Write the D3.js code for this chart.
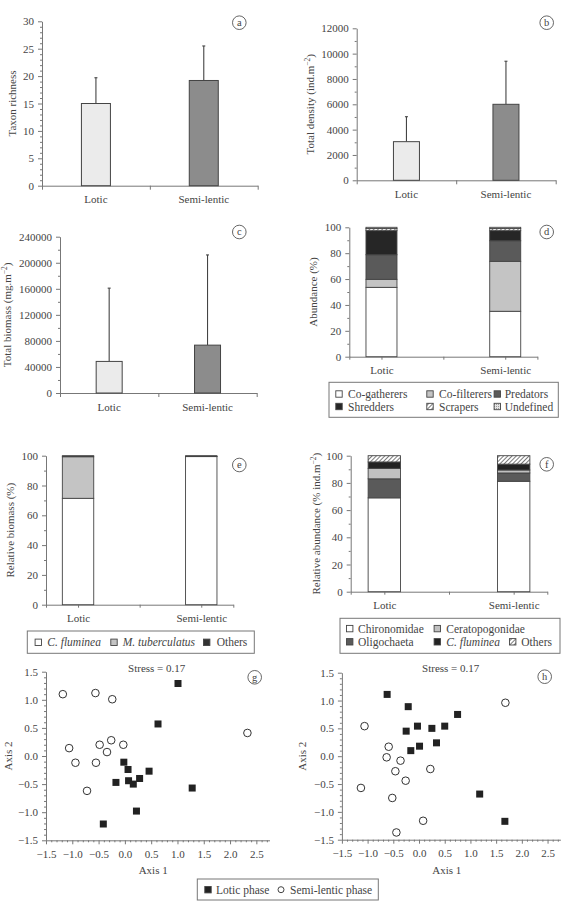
<!DOCTYPE html>
<html><head><meta charset="utf-8">
<script src="https://cdn.jsdelivr.net/npm/d3@7"></script>
<style>
body{margin:0;background:#fff}
svg{display:block}
text{font-family:"Liberation Serif","Times New Roman",serif;fill:#444}
</style>
</head><body>
<svg id="c" width="568" height="902"></svg>
<script>
// ---------------- DATA ----------------
const phases = ["Lotic", "Semi-lentic"];

const richnessMean = [15.0, 19.2];
const richnessErr  = [4.7, 6.3];
const richnessTicks = [0, 5, 10, 15, 20, 25, 30];

const densityMean = [3050, 6000];
const densityErr  = [1970, 3400];
const densityTicks = [0, 2000, 4000, 6000, 8000, 10000, 12000];

const biomassMean = [48500, 73500];
const biomassErr  = [112500, 138500];
const biomassTicks = [0, 40000, 80000, 120000, 160000, 200000, 240000];

const feedingGroups = ["Co-gatherers", "Co-filterers", "Predators", "Shredders", "Scrapers", "Undefined"];
const feedingLotic  = [53.6, 6.2, 19.0, 18.6, 1.6, 1.0];
const feedingSemi   = [35.1, 38.6, 15.9, 7.8, 1.6, 1.0];

const biomassTaxa  = ["C. fluminea", "M. tuberculatus", "Others"];
const relBioLotic  = [71.4, 27.9, 0.7];
const relBioSemi   = [99.4, 0.1, 0.5];

const abundTaxa       = ["Chironomidae", "Ceratopogonidae", "Oligochaeta", "C. fluminea", "Others"];
const abundStackOrder = ["Chironomidae", "Oligochaeta", "Ceratopogonidae", "C. fluminea", "Others"];
const abundLotic      = [69.0, 7.7, 14.0, 4.7, 4.6];
const abundSemi       = [81.2, 2.2, 6.1, 4.3, 6.2];

const pctTicks = [0, 20, 40, 60, 80, 100];
const nmdsTicks = [-1.5, -1.0, -0.5, 0.0, 0.5, 1.0, 1.5, 2.0, 2.5];
const nmdsYTicks = [-1.5, -1.0, -0.5, 0.0, 0.5, 1.0, 1.5];

// NMDS (g): abundance based
const gLoticX = [1.01, 0.63, -0.02, 0.06, 0.46, 0.28, 0.07, 0.16, -0.17, 1.28, 0.22, -0.41];
const gLoticY = [1.29, 0.57, -0.11, -0.24, -0.27, -0.40, -0.44, -0.50, -0.47, -0.57, -0.98, -1.21];
const gSemiX  = [-1.18, -0.56, -0.24, 2.33, -0.26, -0.48, -0.03, -0.34, -1.06, -0.94, -0.55, -0.72];
const gSemiY  = [1.10, 1.12, 1.01, 0.41, 0.28, 0.20, 0.20, 0.07, 0.14, -0.12, -0.12, -0.62];
// NMDS (h)
const hLoticX = [-0.62, -0.21, 0.75, -0.25, -0.03, 0.25, 0.50, 0.34, -0.16, 0.01, 1.18, 1.67];
const hLoticY = [1.11, 0.89, 0.75, 0.45, 0.54, 0.50, 0.54, 0.24, 0.10, 0.18, -0.68, -1.17];
const hSemiX  = [1.68, -1.06, -0.59, -0.63, -0.36, 0.22, -0.46, -0.26, -1.13, -0.52, 0.08, -0.44];
const hSemiY  = [0.96, 0.54, 0.17, -0.02, -0.08, -0.23, -0.27, -0.44, -0.57, -0.75, -1.16, -1.37];
const stressLabel = "Stress = 0.17";
const phaseLegend = ["Lotic phase", "Semi-lentic phase"];

// ---------------- DRAWING ----------------
const FONT = '"Liberation Serif","Times New Roman",serif';
const TXT = "#444", AX = "#777", OUT = "#444";
const svg = d3.select("#c");

const defs = svg.append("defs");
const hatch = defs.append("pattern").attr("id", "hatch").attr("patternUnits", "userSpaceOnUse")
  .attr("width", 3).attr("height", 3).attr("patternTransform", "rotate(45)");
hatch.append("rect").attr("width", 3).attr("height", 3).attr("fill", "#fff");
hatch.append("line").attr("x1", 0).attr("y1", 0).attr("x2", 0).attr("y2", 3).attr("stroke", "#333").attr("stroke-width", 1.3);
const dots = defs.append("pattern").attr("id", "dots").attr("patternUnits", "userSpaceOnUse")
  .attr("width", 2).attr("height", 2);
dots.append("rect").attr("width", 2).attr("height", 2).attr("fill", "#e4e4e4");
dots.append("rect").attr("width", 1).attr("height", 1).attr("fill", "#999");

function styleAxis(s) {
  s.attr("font-family", FONT).attr("font-size", 11);
  s.select(".domain").attr("stroke", AX);
  s.selectAll(".tick line").attr("stroke", AX);
  s.selectAll(".tick text").attr("fill", TXT);
}

function yAxis(x, y, ticks, minorStep, fmt) {
  const [d0, d1] = y.domain();
  const minor = d3.range(d0, d1 + minorStep / 2, minorStep)
    .filter(v => !ticks.some(t => Math.abs(t - v) < 1e-9));
  svg.append("g").attr("transform", `translate(${x},0)`)
    .call(d3.axisLeft(y).tickValues(minor).tickSize(2).tickFormat(""))
    .call(s => { s.select(".domain").remove(); s.selectAll("line").attr("stroke", AX); });
  svg.append("g").attr("transform", `translate(${x},0)`)
    .call(d3.axisLeft(y).tickValues(ticks).tickSize(4).tickSizeOuter(0).tickPadding(4).tickFormat(fmt))
    .call(styleAxis);
}

function yTitle(x, yc, parts) {
  const t = svg.append("text").attr("transform", `translate(${x},${yc}) rotate(-90)`)
    .attr("text-anchor", "middle").attr("dy", "0.35em").attr("font-size", 11).attr("fill", TXT);
  parts.forEach(p => {
    const ts = t.append("tspan").text(p.t);
    if (p.sup) ts.attr("dy", -4).attr("font-size", 7.5);
    if (p.down) ts.attr("dy", 4);
  });
}

function letter(x, y, l) {
  svg.append("circle").attr("cx", x).attr("cy", y).attr("r", 6.8).attr("fill", "#fff").attr("stroke", "#555").attr("stroke-width", 0.9);
  svg.append("text").attr("x", x).attr("y", y).attr("dy", "0.33em").attr("text-anchor", "middle")
    .attr("font-size", 10.5).attr("fill", TXT).text(l);
}

function barPanel(p) {
  const y = d3.scaleLinear().domain([0, p.max]).range([p.yb, p.yt]);
  const xb = d3.scaleBand().domain(phases).range([p.x0, p.x1]);
  const xl = d3.scaleLinear().domain([0, 2]).range([p.x0, p.x1]);
  // x axis with boundary ticks
  svg.append("g").attr("transform", `translate(0,${p.yb})`)
    .call(d3.axisBottom(xl).tickValues([0, 1, 2]).tickSize(4).tickSizeOuter(0).tickFormat(""))
    .call(styleAxis);
  svg.append("g").attr("transform", `translate(0,${p.yb})`)
    .call(d3.axisBottom(xb).tickSize(0).tickPadding(9.7))
    .call(styleAxis).call(s => s.select(".domain").remove());
  yAxis(p.x0, y, p.ticks, p.minor, d3.format("d"));
  const fills = ["#ebebeb", "#8c8c8c"];
  phases.forEach((ph, i) => {
    const cx = xb(ph) + xb.bandwidth() / 2;
    const top = y(p.mean[i] + p.err[i]);
    svg.append("line").attr("x1", cx).attr("x2", cx).attr("y1", y(p.mean[i])).attr("y2", top)
      .attr("stroke", OUT).attr("stroke-width", 1.1);
    svg.append("line").attr("x1", cx - 1.5).attr("x2", cx + 1.5).attr("y1", top).attr("y2", top)
      .attr("stroke", OUT).attr("stroke-width", 1.1);
    svg.append("rect").attr("x", cx - p.bw / 2).attr("y", y(p.mean[i]))
      .attr("width", p.bw).attr("height", y(0) - y(p.mean[i]))
      .attr("fill", fills[i]).attr("stroke", OUT).attr("stroke-width", 1);
  });
  yTitle(p.tx, (p.yt + p.yb) / 2, p.title);
  letter(p.lx, p.ly, p.letter);
}

function stackPanel(p) {
  const y = d3.scaleLinear().domain([0, 100]).range([p.yb, p.yt]);
  const xp = d3.scalePoint().domain(phases).range([p.x0, p.x1]).padding(0.26);
  const xl = d3.scaleLinear().domain([0, 2]).range([p.x0, p.x1]);
  svg.append("g").attr("transform", `translate(0,${p.yb})`)
    .call(d3.axisBottom(xl).tickValues([0, 1, 2]).tickSize(3).tickSizeOuter(0).tickFormat(""))
    .call(styleAxis);
  svg.append("g").attr("transform", `translate(0,${p.yb})`)
    .call(d3.axisBottom(xp).tickSize(3).tickPadding(6.7))
    .call(styleAxis).call(s => s.select(".domain").remove());
  yAxis(p.x0, y, pctTicks, 10, d3.format("d"));
  const rows = phases.map((ph, i) => {
    const o = { phase: ph };
    p.keys.forEach((k, j) => o[k] = p.values[i][j]);
    return o;
  });
  const series = d3.stack().keys(p.order)(rows);
  series.forEach(s => {
    s.forEach(d => {
      const cx = xp(d.data.phase);
      svg.append("rect").attr("x", cx - p.bw / 2).attr("y", y(d[1]))
        .attr("width", p.bw).attr("height", Math.max(0, y(d[0]) - y(d[1])))
        .attr("fill", p.fills[s.key]).attr("stroke", OUT).attr("stroke-width", 0.9);
    });
  });
  yTitle(p.tx, (p.yt + p.yb) / 2, p.title);
  letter(p.lx, p.ly, p.letter);
}

function legendBox(x0, y0, x1, y1) {
  svg.append("rect").attr("x", x0).attr("y", y0).attr("width", x1 - x0).attr("height", y1 - y0)
    .attr("fill", "#fff").attr("stroke", "#777").attr("stroke-width", 1);
}
function legendItem(mx, ty, tx, fill, label, italic, shape) {
  if (shape === "circle") {
    svg.append("circle").attr("cx", mx).attr("cy", ty).attr("r", 3).attr("fill", "#fff").attr("stroke", "#444");
  } else {
    svg.append("rect").attr("x", mx - 3.2).attr("y", ty - 3.2).attr("width", 6.4).attr("height", 6.4)
      .attr("fill", fill).attr("stroke", "#444").attr("stroke-width", 0.9);
  }
  svg.append("text").attr("x", tx).attr("y", ty).attr("dy", "0.35em").attr("font-size", 11.5)
    .attr("fill", TXT).attr("font-style", italic ? "italic" : "normal").text(label);
}

function scatterPanel(p) {
  const x = d3.scaleLinear().domain([-1.5, 2.75]).range([p.x0, p.x1]);
  const y = d3.scaleLinear().domain([-1.5, 1.5]).range([p.yb, p.yt]);
  const fmt = d3.format(".1f");
  // minor ticks
  const mx = d3.range(-1.5, 2.75, 0.1).filter(v => !nmdsTicks.some(t => Math.abs(t - v) < 1e-6));
  svg.append("g").attr("transform", `translate(0,${p.yb})`)
    .call(d3.axisBottom(x).tickValues(mx).tickSize(2).tickFormat(""))
    .call(s => { s.select(".domain").remove(); s.selectAll("line").attr("stroke", AX); });
  svg.append("g").attr("transform", `translate(0,${p.yb})`)
    .call(d3.axisBottom(x).tickValues(nmdsTicks).tickSize(4).tickSizeOuter(0).tickPadding(6).tickFormat(fmt))
    .call(styleAxis);
  yAxis(p.x0, y, nmdsYTicks, 0.1, fmt);
  p.semiX.forEach((v, i) => {
    svg.append("circle").attr("cx", x(v)).attr("cy", y(p.semiY[i])).attr("r", 3.8)
      .attr("fill", "#fff").attr("stroke", "#333").attr("stroke-width", 1);
  });
  p.loticX.forEach((v, i) => {
    svg.append("rect").attr("x", x(v) - 3.5).attr("y", y(p.loticY[i]) - 3.5).attr("width", 7).attr("height", 7)
      .attr("fill", "#222");
  });
  svg.append("text").attr("x", p.sx).attr("y", p.sy).attr("dy", "0.35em").attr("text-anchor", "middle")
    .attr("font-size", 11).attr("fill", TXT).text(stressLabel);
  svg.append("text").attr("x", (p.x0 + x(2.5)) / 2 + 2).attr("y", p.yb + 34).attr("text-anchor", "middle")
    .attr("font-size", 11).attr("fill", TXT).text("Axis 1");
  yTitle(p.tx, (p.yt + p.yb) / 2, [{ t: "Axis 2" }]);
  letter(p.lx, p.ly, p.letter);
}

// (a) richness
barPanel({ x0: 42, x1: 257.7, yt: 21.3, yb: 185.7, max: 30, ticks: richnessTicks, minor: 1,
  mean: richnessMean, err: richnessErr, bw: 29, tx: 12, title: [{ t: "Taxon richness" }],
  lx: 239.3, ly: 22.7, letter: "a" });
// (b) density
barPanel({ x0: 356.7, x1: 555.7, yt: 28.3, yb: 180.3, max: 12000, ticks: densityTicks, minor: 1000,
  mean: densityMean, err: densityErr, bw: 26, tx: 309.7,
  title: [{ t: "Total density (ind.m" }, { t: "−2", sup: true }, { t: ")", down: true }],
  lx: 546.7, ly: 22.7, letter: "b" });
// (c) biomass
barPanel({ x0: 60, x1: 256.7, yt: 236.7, yb: 393, max: 240000, ticks: biomassTicks, minor: 20000,
  mean: biomassMean, err: biomassErr, bw: 26, tx: 7.5,
  title: [{ t: "Total biomass (mg.m" }, { t: "−2", sup: true }, { t: ")", down: true }],
  lx: 239.3, ly: 232, letter: "c" });

// (d) functional feeding groups
const feedFills = { "Co-gatherers": "#fff", "Co-filterers": "#c4c4c4", "Predators": "#5a5a5a",
  "Shredders": "#262626", "Scrapers": "url(#hatch)", "Undefined": "url(#dots)" };
stackPanel({ x0: 349.3, x1: 537.4, yt: 227.3, yb: 356.7, keys: feedingGroups, order: feedingGroups,
  values: [feedingLotic, feedingSemi], fills: feedFills, bw: 31, tx: 313.3,
  title: [{ t: "Abundance (%)" }], lx: 546.7, ly: 232, letter: "d" });
legendBox(329, 382.3, 558.3, 417.3);
[[339, 394, 348], [430, 394, 439], [497.3, 394, 504.7], [339, 406.5, 348], [430, 406.5, 439], [497.3, 406.5, 504.7]]
  .forEach((c, i) => legendItem(c[0], c[1], c[2], feedFills[feedingGroups[i]], feedingGroups[i], false));

// (e) relative biomass
const bioFills = { "C. fluminea": "#fff", "M. tuberculatus": "#c4c4c4", "Others": "#333" };
stackPanel({ x0: 46, x1: 233.3, yt: 455.7, yb: 604.7, keys: biomassTaxa, order: biomassTaxa,
  values: [relBioLotic, relBioSemi], fills: bioFills, bw: 31.4, tx: 10,
  title: [{ t: "Relative biomass (%)" }], lx: 239.3, ly: 465, letter: "e" });
legendBox(27.3, 631, 254.3, 653.3);
[[38.3, 47.3, true], [114, 122.7, true], [206.7, 216.7, false]]
  .forEach((c, i) => legendItem(c[0], 642.3, c[1], bioFills[biomassTaxa[i]], biomassTaxa[i], c[2]));

// (f) relative abundance
const abFills = { "Chironomidae": "#fff", "Ceratopogonidae": "#c0c0c0", "Oligochaeta": "#5a5a5a",
  "C. fluminea": "#222", "Others": "url(#hatch)" };
stackPanel({ x0: 350.7, x1: 547.3, yt: 455.7, yb: 591.7, keys: abundTaxa, order: abundStackOrder,
  values: [abundLotic, abundSemi], fills: abFills, bw: 32.4, tx: 315.7,
  title: [{ t: "Relative abundance (% ind.m" }, { t: "−2", sup: true }, { t: ")", down: true }],
  lx: 546.7, ly: 464.3, letter: "f" });
legendBox(340, 618.3, 560, 653.3);
[[349.7, 628.6, 358, false], [437.3, 628.6, 446.3, false], [349.7, 641.8, 358, false],
 [437.3, 641.8, 446.3, true], [512.7, 641.8, 521.3, false]]
  .forEach((c, i) => legendItem(c[0], c[1], c[2], abFills[abundTaxa[i]], abundTaxa[i], c[3]));

// (g) and (h) NMDS
scatterPanel({ x0: 46, x1: 269.5, yt: 671.7, yb: 840.3, loticX: gLoticX, loticY: gLoticY,
  semiX: gSemiX, semiY: gSemiY, sx: 156.7, sy: 668.3, tx: 8.3, lx: 254.7, ly: 677.3, letter: "g" });
scatterPanel({ x0: 341.9, x1: 560.4, yt: 672.7, yb: 839.7, loticX: hLoticX, loticY: hLoticY,
  semiX: hSemiX, semiY: hSemiY, sx: 450.7, sy: 668.3, tx: 302.3, lx: 544.7, ly: 676.7, letter: "h" });

// bottom legend
legendBox(197.3, 879, 378.3, 900);
legendItem(208, 889.7, 216, "#222", phaseLegend[0], false);
legendItem(281, 889.7, 290, "#fff", phaseLegend[1], false, "circle");
svg.selectAll("rect").filter(function(){ return false; });
</script>
</body></html>
